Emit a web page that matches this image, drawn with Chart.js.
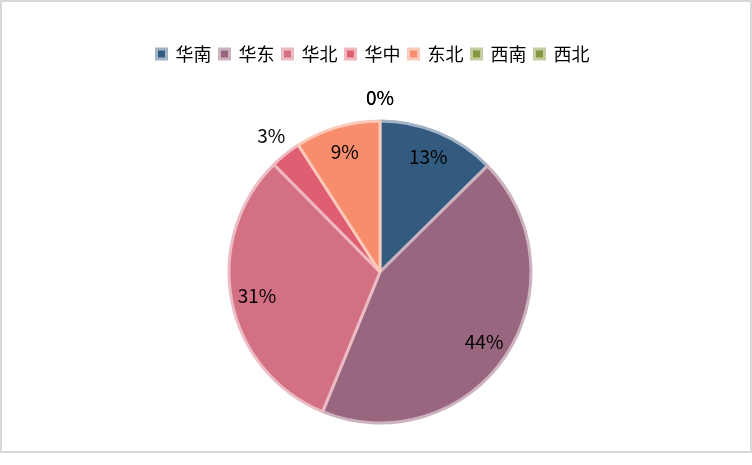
<!DOCTYPE html>
<html>
<head>
<meta charset="utf-8">
<script src="https://cdn.jsdelivr.net/npm/chart.js@4/dist/chart.umd.min.js"></script>
<style>
	html, body { margin: 0; padding: 0; background: #fff; }
	#frame {
		position: absolute; left: 0; top: 0;
		width: 752px; height: 453px;
		box-sizing: border-box;
		border: 2px solid #d9d9d9;
	}
	#wrap { position: absolute; left: 0; top: 0; width: 752px; height: 465px; }
</style>
</head>
<body>
<div id="frame"></div>
<div id="wrap"><canvas id="regionChart"></canvas></div>
<script>
// region share, in percent, clockwise from 12 o'clock
const regions = ['华南', '华东', '华北', '华中', '东北', '西南', '西北'];
const shares = [12.6, 43.6, 31.4, 3.3, 9.1, 0, 0];
const fillColors = ['#335b80', '#98667f', '#d37083', '#e05e72', '#f78d6d', '#84963f', '#84963f'];
const edgeColors = ['#a3b4c6', '#cdb3c0', '#ecbcc5', '#f1b7bf', '#fbc9b9', '#c4cda2', '#c4cda2'];

const FONT = '"Noto Sans CJK SC", "Noto Sans", sans-serif';
const PAD_TOP = 37;

// make room under the legend and nudge it left a little
const legendSpacing = {
	id: 'legendSpacing',
	beforeInit(chart) {
		const fit = chart.legend.fit;
		chart.legend.fit = function () {
			fit.bind(chart.legend)();
			this.height = 100 - PAD_TOP;
		};
	},
	afterLayout(chart) {
		chart.legend.left -= 7;
		chart.legend.right -= 7;
	}
};

const sliceLabels = {
	id: 'sliceLabels',
	afterDatasetsDraw(chart) {
		const ctx = chart.ctx;
		const meta = chart.getDatasetMeta(0);
		const data = chart.data.datasets[0].data;
		const total = data.reduce((a, b) => a + b, 0);
		ctx.save();
		ctx.font = '19px ' + FONT;
		ctx.fillStyle = '#000';
		ctx.textAlign = 'center';
		ctx.textBaseline = 'middle';
		meta.data.forEach((arc, i) => {
			const p = arc.getProps(['x', 'y', 'startAngle', 'endAngle', 'outerRadius'], true);
			const mid = (p.startAngle + p.endAngle) / 2;
			const pct = Math.round(data[i] / total * 100);
			const r = pct < 5 ? p.outerRadius + 23 : p.outerRadius * 0.83;
			ctx.fillText(pct + '%', p.x + Math.cos(mid) * r, p.y + Math.sin(mid) * r);
		});
		ctx.restore();
	}
};

new Chart(document.getElementById('regionChart'), {
	type: 'pie',
	data: {
		labels: regions,
		datasets: [{
			data: shares,
			backgroundColor: fillColors,
			borderColor: edgeColors,
			borderWidth: 3
		}]
	},
	options: {
		responsive: true,
		maintainAspectRatio: false,
		animation: false,
		radius: 151,
		layout: {
			padding: { top: PAD_TOP, left: 8, right: 0, bottom: 21 }
		},
		plugins: {
			legend: {
				position: 'top',
				labels: {
					color: '#000',
					boxWidth: 10,
					boxHeight: 10,
					padding: 8,
					font: { family: FONT, size: 18 }
				}
			},
			tooltip: { enabled: false }
		}
	},
	plugins: [legendSpacing, sliceLabels]
});
</script>
</body>
</html>
